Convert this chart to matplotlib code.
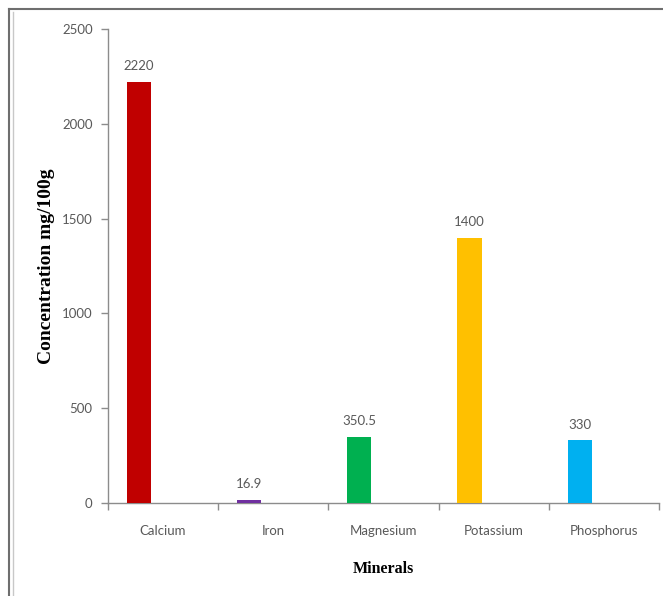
import matplotlib
matplotlib.use("Agg")
from matplotlib import pyplot as plt
from matplotlib.lines import Line2D

minerals = ["Calcium", "Iron", "Magnesium", "Potassium", "Phosphorus"]
conc = [2220, 16.9, 350.5, 1400, 330]
labels = ["2220", "16.9", "350.5", "1400", "330"]
colors = ["#C00000", "#7030A0", "#00B050", "#FFC000", "#00B0F0"]

W, H = 663, 596
fig = plt.figure(figsize=(W / 100, H / 100), dpi=100)
ax = fig.add_axes([108 / W, 93 / H, 551 / W, 474 / H])

gray = "#8c8c8c"
txt = "#595959"

x = list(range(len(minerals)))
# bars sit left of the category centre (old excel layout)
xb = [i - 0.22 for i in x]
ax.bar(xb, conc, width=0.22, color=colors, zorder=3)
for xi, v, s in zip(xb, conc, labels):
    ax.annotate(s, (xi, v), xytext=(0, 7), textcoords="offset points",
                ha="center", va="bottom", fontsize=9.5, color=txt, family="Lato")

ax.set_xlim(-0.5, 4.5)
ax.set_ylim(0, 2500)
ax.set_yticks(range(0, 2501, 500))
ax.set_xticks([i - 0.5 for i in range(6)])
ax.set_xticklabels([])
ax.set_xticks(x, minor=True)
ax.set_xticklabels(minerals, minor=True)

for s in ["top", "right"]:
    ax.spines[s].set_visible(False)
for s in ["left", "bottom"]:
    ax.spines[s].set_color(gray)
    ax.spines[s].set_linewidth(1)
ax.tick_params(axis="both", which="major", color=gray, length=5, width=1,
               labelsize=9.5, labelcolor=txt, pad=6)
ax.tick_params(axis="x", which="minor", length=0, labelsize=9.5,
               labelcolor=txt, pad=16)
for t in ax.get_xticklabels(minor=True) + ax.get_yticklabels():
    t.set_family("Lato")

ax.set_ylabel("Concentration mg/100g", family="Liberation Serif",
              fontweight="bold", fontsize=14, labelpad=5)
ax.set_xlabel("Minerals", family="Liberation Serif", fontweight="bold",
              fontsize=11.5, labelpad=17)

# outer chart border
fig.add_artist(Line2D([9 / W, 1], [1 - 9 / H, 1 - 9 / H], color="#6e6e6e", lw=1.5))
fig.add_artist(Line2D([9 / W, 9 / W], [0, 1 - 9 / H], color="#6e6e6e", lw=1.5))
fig.add_artist(Line2D([13 / W, 13 / W], [0, 1 - 12 / H], color="#c8c8c8", lw=1))

plt.savefig("out.png", dpi=100)
